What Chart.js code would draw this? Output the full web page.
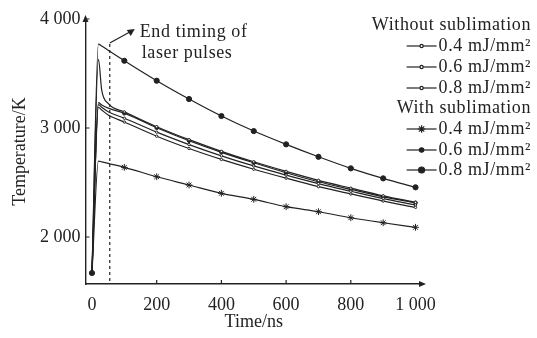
<!DOCTYPE html>
<html>
<head>
<meta charset="utf-8">
<script src="https://cdn.jsdelivr.net/npm/chart.js@4.4.1/dist/chart.umd.min.js"></script>
<style>
  html, body { margin: 0; padding: 0; background: #fff; }
  #wrap { width: 537px; height: 338px; }
</style>
</head>
<body>
<div id="wrap"><canvas id="chart" width="537" height="338"></canvas></div>
<script>
// data
const times = [0, 20, 30, 50, 100, 200, 300, 400, 500, 600, 700, 800, 900, 1000];
const xTicks = [0, 200, 400, 600, 800, 1000];
const yTicks = [2000, 3000, 4000];
const pulseEnd = 55;

const noSub04 = [1670, 3190, 3165, 3120, 3055, 2925, 2812, 2712, 2622, 2540, 2462, 2395, 2330, 2272];
const noSub06 = [1670, 3215, 3190, 3150, 3090, 2962, 2848, 2745, 2652, 2568, 2490, 2420, 2352, 2294];
const noSub08 = [1670, 3630, 3350, 3225, 3148, 3012, 2893, 2786, 2690, 2602, 2520, 2448, 2378, 2318];
const sub04   = [1670, 2697, 2690, 2675, 2639, 2553, 2477, 2401, 2346, 2278, 2232, 2177, 2131, 2089];
const sub06   = [1670, 3232, 3212, 3182, 3135, 3002, 2883, 2777, 2681, 2590, 2507, 2437, 2369, 2314];
const sub08   = [1670, 3770, 3752, 3713, 3617, 3434, 3266, 3110, 2972, 2850, 2736, 2630, 2538, 2456];

const labels = ["0.4 mJ/mm\u00b2", "0.6 mJ/mm\u00b2", "0.8 mJ/mm\u00b2"];
const ink = "#222";
const FONT = '"Liberation Serif", "DejaVu Serif", serif';

const pts = arr => arr.map((v, i) => ({ x: times[i], y: v }));
const markAt = (r, first) => c => (c.dataIndex >= 4 || (first && c.dataIndex === 0)) ? r : 0;

function series(label, arr, style, r, fill, first) {
  return {
    label, data: pts(arr),
    borderColor: ink, borderWidth: 1.2,
    pointStyle: style, pointRadius: markAt(r, first),
    pointBackgroundColor: fill, pointBorderColor: ink, pointBorderWidth: 1,
    cubicInterpolationMode: "monotone", fill: false
  };
}

const datasets = [
  series(labels[0], noSub04, "circle", 1.2, "#fff"),
  series(labels[1], noSub06, "circle", 1.2, "#fff"),
  series(labels[2], noSub08, "circle", 1.2, "#fff"),
  series(labels[0], sub04, "star", 3.4, ink),
  series(labels[1], sub06, "circle", 1.8, ink),
  series(labels[2], sub08, "circle", 2.6, ink, true)
];

// arrows, inner ticks, pulse marker, legend
const extras = {
  id: "extras",
  afterDraw(chart) {
    const { ctx, chartArea: a, scales: { x, y } } = chart;
    ctx.save();
    ctx.strokeStyle = ink; ctx.fillStyle = ink; ctx.lineWidth = 1.2;

    // axis arrows
    ctx.beginPath();
    ctx.moveTo(a.right + 4, a.bottom); ctx.lineTo(a.right - 3, a.bottom - 3); ctx.lineTo(a.right - 3, a.bottom + 3);
    ctx.closePath(); ctx.fill();
    ctx.beginPath();
    ctx.moveTo(a.left, a.top - 4); ctx.lineTo(a.left - 3, a.top + 3); ctx.lineTo(a.left + 3, a.top + 3);
    ctx.closePath(); ctx.fill();

    // inner ticks
    ctx.beginPath();
    xTicks.forEach(v => {
      if (v === 0 || v === 1000) return;
      const px = x.getPixelForValue(v);
      ctx.moveTo(px, a.bottom); ctx.lineTo(px, a.bottom - 4);
    });
    yTicks.forEach(v => {
      const py = y.getPixelForValue(v);
      ctx.moveTo(a.left, py); ctx.lineTo(a.left + 4, py);
    });
    ctx.stroke();

    // end of laser pulse
    const px = x.getPixelForValue(pulseEnd);
    const top = y.getPixelForValue(3770);
    ctx.setLineDash([3, 3]);
    ctx.beginPath(); ctx.moveTo(px, top); ctx.lineTo(px, a.bottom); ctx.stroke();
    ctx.setLineDash([]);
    ctx.beginPath(); ctx.moveTo(px, top - 1); ctx.lineTo(px + 20, top - 12); ctx.stroke();
    ctx.beginPath();
    ctx.moveTo(px + 25, top - 15); ctx.lineTo(px + 17, top - 14); ctx.lineTo(px + 21, top - 8);
    ctx.closePath(); ctx.fill();

    ctx.font = "18px " + FONT;
    ctx.letterSpacing = "0.6px";
    ctx.textBaseline = "middle";
    ctx.textAlign = "left";
    ctx.fillText("End timing of", px + 30, top - 12);
    ctx.fillText("laser pulses", px + 32, top + 9);

    // legend
    const rx = 531;
    const rows = [
      { head: "Without sublimation", y: 25 },
      { ds: 0, y: 46 }, { ds: 1, y: 67 }, { ds: 2, y: 88 },
      { head: "With sublimation", y: 108 },
      { ds: 3, y: 129 }, { ds: 4, y: 150 }, { ds: 5, y: 170 }
    ];
    ctx.textAlign = "right";
    rows.forEach(r => {
      if (r.head) { ctx.fillText(r.head, rx, r.y); return; }
      const d = chart.data.datasets[r.ds];
      const w = ctx.measureText(d.label).width;
      ctx.fillText(d.label, rx, r.y);
      const x1 = rx - w - 2, x0 = x1 - 30, xm = (x0 + x1) / 2;
      ctx.beginPath(); ctx.moveTo(x0, r.y); ctx.lineTo(x1, r.y); ctx.stroke();
      const rad = d.pointRadius({ dataIndex: 5 }) + 0.4;
      if (d.pointStyle === "circle") {
        ctx.fillStyle = d.pointBackgroundColor;
        ctx.beginPath(); ctx.arc(xm, r.y, rad, 0, Math.PI * 2); ctx.fill(); ctx.stroke();
        ctx.fillStyle = ink;
      } else {
        Chart.helpers.drawPoint(ctx, { pointStyle: d.pointStyle, radius: rad, borderWidth: 1 }, xm, r.y);
      }
    });
    ctx.restore();
  }
};

Chart.defaults.font.family = FONT;
Chart.defaults.font.size = 18;
Chart.defaults.color = ink;

new Chart(document.getElementById("chart"), {
  type: "line",
  data: { datasets },
  plugins: [extras],
  options: {
    responsive: false,
    animation: false,
    layout: { padding: { left: 0, right: 115, top: 19, bottom: 0 } },
    plugins: { legend: { display: false }, tooltip: { enabled: false } },
    scales: {
      x: {
        type: "linear", min: -20, max: 1020,
        afterBuildTicks: s => { s.ticks = xTicks.map(v => ({ value: v })); },
        afterFit: s => { s.height = 54; },
        grid: { display: false, drawTicks: false },
        border: { display: true, color: ink, width: 1.4 },
        ticks: { padding: 10, callback: v => v >= 1000 ? "1 000" : String(v) },
        title: { display: true, text: "Time/ns", padding: { top: 0, bottom: 5 } }
      },
      y: {
        type: "linear", min: 1569, max: 4000,
        afterBuildTicks: s => { s.ticks = yTicks.map(v => ({ value: v })); },
        afterFit: s => { s.width = 85.5; },
        grid: { display: false, drawTicks: false },
        border: { display: true, color: ink, width: 1.4 },
        ticks: { padding: 5, callback: v => String(v).replace(/(\d)(\d{3})$/, "$1 $2") },
        title: { display: true, text: "Temperature/K", padding: { top: 9, bottom: 0 } }
      }
    }
  }
});
</script>
</body>
</html>
